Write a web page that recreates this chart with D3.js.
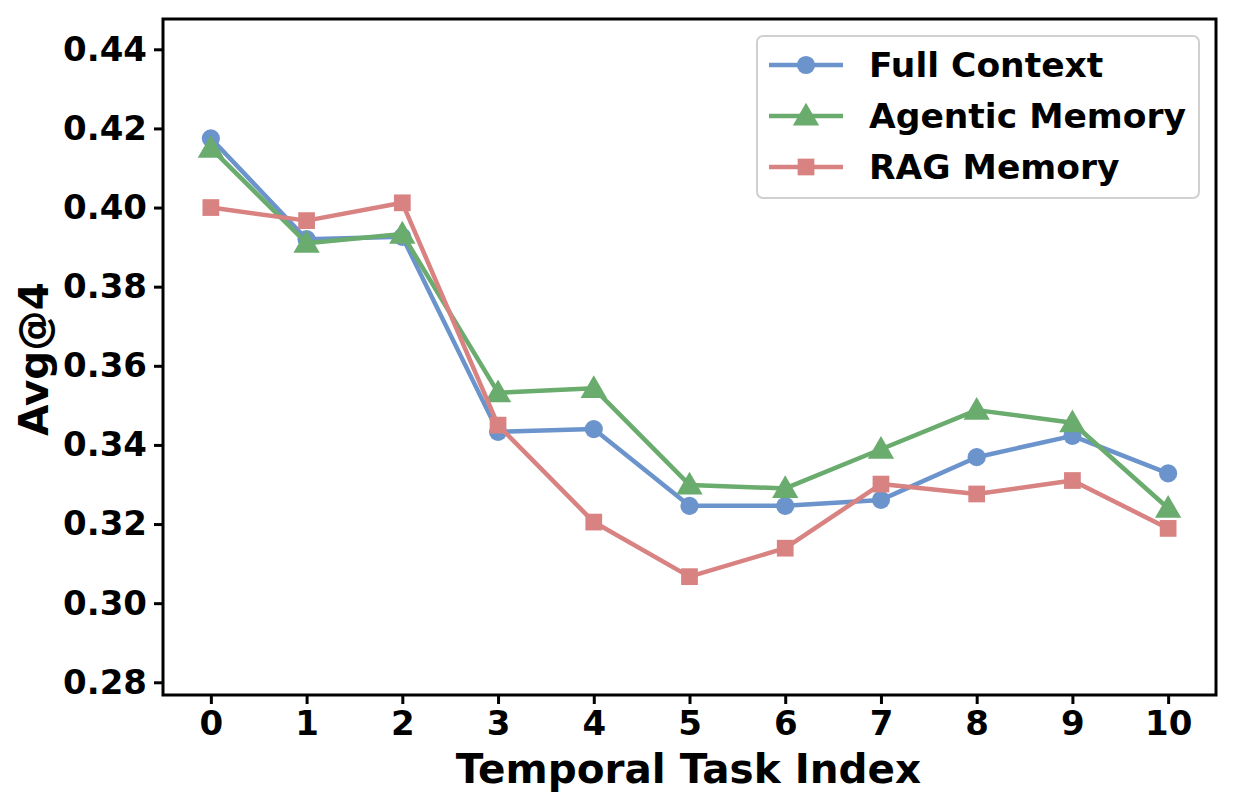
<!DOCTYPE html>
<html><head><meta charset="utf-8">
<script src="https://cdn.jsdelivr.net/npm/d3@7"></script>
<style>body{margin:0;background:#fff}svg{display:block;font-family:"DejaVu Sans",sans-serif;font-weight:bold}</style>
</head><body>
<svg id="c" width="1250" height="795"></svg>
<script>
const taskIndex = [0,1,2,3,4,5,6,7,8,9,10];
const fullContext = [0.4175,0.392,0.3926,0.3433,0.344,0.3246,0.3246,0.3261,0.3369,0.3423,0.3328];
const agenticMemory = [0.415,0.391,0.3933,0.3532,0.3543,0.3299,0.329,0.3389,0.3488,0.3456,0.324];
const ragMemory = [0.400,0.3967,0.4012,0.345,0.3205,0.3067,0.3139,0.3301,0.3276,0.331,0.3189];
const seriesNames = ["Full Context","Agentic Memory","RAG Memory"];
const yTicks = [0.28,0.30,0.32,0.34,0.36,0.38,0.40,0.42,0.44];
const xLabel = "Temporal Task Index";
const yLabel = "Avg@4";

const colors = ["#6b93cc","#6aab6e","#d98282"];
const shapes = [d3.symbolCircle, d3.symbolTriangle, d3.symbolSquare];
const sizes = [260, 300, 280];
const data = [fullContext, agenticMemory, ragMemory];

const svg = d3.select("#c");
const L = 163, R = 1216, T = 19, B = 695;
const x = d3.scaleLinear().domain([-0.5,10.5]).range([L,R]);
const y = d3.scaleLinear().domain([0.28,0.44]).range([682.3,49.3]);

// axes
const xa = svg.append("g").attr("transform",`translate(0,${B})`)
  .call(d3.axisBottom(x).tickValues(taskIndex).tickFormat(d3.format("d")).tickSize(9).tickPadding(7));
const ya = svg.append("g").attr("transform",`translate(${L},0)`)
  .call(d3.axisLeft(y).tickValues(yTicks).tickFormat(d3.format(".2f")).tickSize(9).tickPadding(7));
[xa,ya].forEach(a=>{
  a.select(".domain").remove();
  a.selectAll(".tick line").attr("stroke","#000").attr("stroke-width",3);
  a.selectAll(".tick text").attr("fill","#000").style("font-size","34px").style("font-weight","bold").style("font-family","DejaVu Sans");
});

// lines
const line = d3.line().x((d,i)=>x(taskIndex[i])).y(d=>y(d));
data.forEach((s,k)=>{
  svg.append("path").datum(s).attr("d",line).attr("fill","none")
    .attr("stroke",colors[k]).attr("stroke-width",4.5).attr("stroke-linejoin","round");
  svg.append("g").selectAll("path").data(s).join("path")
    .attr("transform",(d,i)=>`translate(${x(taskIndex[i])},${y(d) + (k===1?2:0)})`)
    .attr("d",d3.symbol().type(shapes[k]).size(sizes[k]))
    .attr("fill",colors[k]);
});

// frame
svg.append("rect").attr("x",L).attr("y",T).attr("width",R-L).attr("height",B-T)
  .attr("fill","none").attr("stroke","#000").attr("stroke-width",3);

// legend
const lg = svg.append("g");
lg.append("rect").attr("x",757).attr("y",36).attr("width",442).attr("height",162).attr("rx",6)
  .attr("fill","#fff").attr("stroke","#d0d0d0").attr("stroke-width",2);
seriesNames.forEach((n,k)=>{
  const yy = 65 + k*51;
  lg.append("line").attr("x1",769).attr("x2",843).attr("y1",yy).attr("y2",yy)
    .attr("stroke",colors[k]).attr("stroke-width",4.5);
  lg.append("path").attr("transform",`translate(806,${yy + (k===1?2:0)})`)
    .attr("d",d3.symbol().type(shapes[k]).size(sizes[k])).attr("fill",colors[k]);
  lg.append("text").attr("x",869).attr("y",yy).attr("dy","0.36em")
    .style("font-size","34.5px").attr("fill","#000").text(n);
});

// axis labels
svg.append("text").attr("x",(L+R)/2 - 1).attr("y",783).attr("text-anchor","middle")
  .style("font-size","40.5px").attr("fill","#000").text(xLabel);
svg.append("text").attr("transform",`translate(48,${359}) rotate(-90)`).attr("text-anchor","middle")
  .style("font-size","40.5px").attr("fill","#000").text(yLabel);
</script>
</body></html>
